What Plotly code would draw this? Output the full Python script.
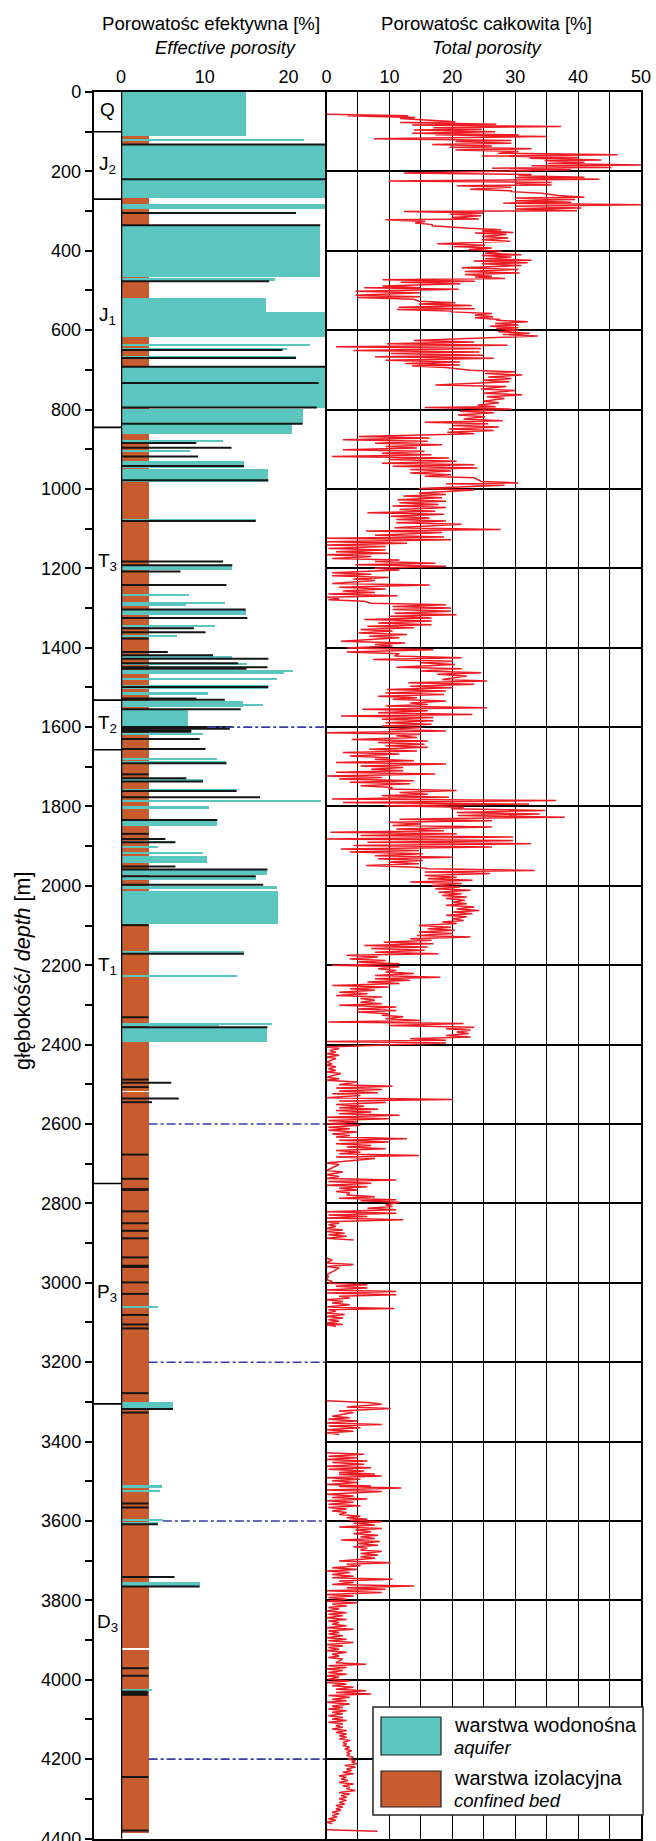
import plotly.graph_objects as go

W, H = 656, 1841

# ---------------- data ----------------
DEPTH_TICKS = list(range(0, 4401, 200))
DEPTH_MINOR = list(range(100, 4400, 200))
EFF_TICKS = [0, 10, 20]
TOT_TICKS = [0, 5, 10, 15, 20, 25, 30, 35, 40, 45, 50]
TOT_TICKTEXT = ["0", "", "10", "", "20", "", "30", "", "40", "", "50"]

STRAT_BOUNDARIES = [100, 270, 845, 1532, 1657, 2750, 3305]
STRAT_LABELS = ["Q", "J<sub>2</sub>", "J<sub>1</sub>", "T<sub>3</sub>", "T<sub>2</sub>",
                "T<sub>1</sub>", "P<sub>3</sub>", "D<sub>3</sub>"]
STRAT_LABEL_DEPTH = [45, 185, 565, 1185, 1592, 2202, 3025, 3857]

# confined bed (orange) segments
CB_TOP = [110, 2520, 3925]
CB_BOTTOM = [2516, 3921, 4385]
CB_VALUE = [3.3, 3.3, 3.3]

# aquifer (cyan) layers
AQ_TOP = [0, 119, 132, 282, 338, 471, 519, 555, 635, 645, 666, 690, 798, 836, 878, 903,
          930, 950, 1078, 1195, 1266, 1284, 1286, 1305, 1345, 1370, 1423, 1440, 1458, 1462,
          1477, 1494, 1514, 1533, 1544, 1556, 1617, 1678, 1687, 1732, 1756, 1784, 1799,
          1833, 1888, 1901, 1915, 1925, 1958, 1975, 2002, 2012, 2165, 2226, 2345, 2347,
          2356, 3060, 3301, 3509, 3524, 3597, 3603, 3755, 4024]
AQ_BOTTOM = [111, 123, 266, 294, 465, 475, 555, 617, 639, 649, 672, 797, 836, 862, 882, 907,
             947, 982, 1082, 1205, 1270, 1294, 1290, 1318, 1349, 1374, 1427, 1444, 1462, 1466,
             1481, 1503, 1518, 1549, 1548, 1596, 1621, 1682, 1692, 1736, 1761, 1788, 1807,
             1850, 1892, 1905, 1919, 1943, 1972, 1985, 2007, 2097, 2171, 2230, 2352, 2351,
             2393, 3064, 3318, 3516, 3528, 3601, 3607, 3765, 4028]
AQ_VALUE = [14.9, 21.9, 24.55, 24.55, 23.8, 18.4, 17.3, 24.55, 22.6, 19.8, 20.9, 24.55, 21.7,
            20.4, 12.2, 8.3, 14.7, 17.6, 16.1, 13.3, 8.1, 7.8, 12.4, 14.9, 11.2, 6.7, 13.3,
            15.0, 20.6, 19.5, 18.6, 17.6, 10.4, 14.6, 17.0, 8.0, 9.8, 11.5, 12.6, 9.8, 13.8,
            23.95, 10.5, 11.5, 6.5, 4.4, 9.8, 10.3, 17.5, 16.1, 18.6, 18.8, 14.7, 13.8, 11.7,
            18.0, 17.5, 4.4, 6.2, 4.9, 4.7, 5.0, 4.4, 9.4, 3.7]

# black marker lines in the effective porosity column
BL_DEPTH = [132, 220, 305, 336, 477, 650, 670, 692, 733, 795, 836, 884, 896, 918, 942, 978,
            1081, 1183, 1192, 1208, 1242, 1304, 1325, 1351, 1361, 1377, 1411, 1419, 1428,
            1439, 1449, 1453, 1499, 1528, 1531, 1555, 1600, 1604, 1608, 1612, 1630, 1655,
            1691, 1719, 1729, 1737, 1761, 1777, 1834, 1869, 1882, 1890, 1951, 1959, 1976,
            1997, 2099, 2171, 2331, 2356, 2488, 2496, 2507, 2536, 2545, 2677, 2738, 2764,
            2766, 2820, 2850, 2869, 2888, 2936, 2957, 2960, 2999, 3028, 3081, 3105, 3115,
            3278, 3318, 3327, 3556, 3566, 3608, 3741, 3765, 3971, 3990, 4030, 4034, 4038,
            4245, 4380]
BL_VALUE = [24.55, 24.55, 20.9, 23.8, 17.7, 19.3, 20.9, 24.55, 23.6, 23.4, 21.7, 9.0, 13.2,
            9.2, 14.7, 17.6, 16.1, 12.2, 13.3, 7.1, 12.6, 14.9, 15.1, 8.7, 10.1, 3.3, 5.6,
            11.0, 17.6, 14.0, 17.5, 15.0, 17.6, 9.0, 12.4, 14.3, 13.3, 13.0, 8.4, 8.4, 9.4,
            10.1, 12.6, 3.3, 7.8, 9.8, 13.8, 16.6, 11.5, 3.3, 5.3, 6.5, 6.5, 17.5, 16.1, 17.0,
            3.3, 14.7, 3.3, 17.5, 3.3, 6.0, 3.3, 6.9, 3.7, 3.3, 3.3, 3.3, 3.3, 3.3, 3.3, 3.3,
            3.3, 3.3, 3.3, 3.3, 3.3, 3.3, 3.3, 3.3, 3.3, 3.3, 6.2, 3.3, 3.3, 3.3, 4.4, 6.4,
            9.4, 3.3, 3.3, 3.2, 3.2, 3.2, 3.3, 3.3]

# dash-dot correlation lines
DOT_DEPTH = [1600, 2600, 3200, 3600, 4200]
DOT_START = [10.3, 3.3, 3.3, 5.0, 3.3]

# total porosity log: per depth row, the low and high excursion of the trace
# (None rows mark gaps in the log)
TP_DEPTH = [
    58, 62, 69, 73, 79, 85, 92, 98, 106, 110, 120, 127, 134, 141, 148, 156, 163, 169, 175, 182,
    188, 194, 206, 213, 218, 226, 232, 238, 247, 253, 263, 269, 276, 282, 290, 297, 303, 310,
    318, 324, 332, 339, 345, 352, 357, 366, 374, 384, 391, 399, 408, 414, 422, 428, 435, 445,
    454, 462, 468, 475, 481, 491, 495, 504, 514, 520, 529, 536, 544, 550, 556, 564, 571, 577,
    585, 592, 598, 606, 613, 628, 636, 644, 653, 661, 669, 678, 686, 692, 703, 711, 720, 728,
    740, 750, 761, 770, 781, 791, 797, 806, 816, 826, 834, 842, 851, 859, 870, 878, 887, 895,
    903, 912, 920, 928, 937, 945, 953, 962, 970, 983, 989, 1001, 1012, 1020, 1029, 1037, 1045,
    1054, 1062, 1071, 1079, 1087, 1100, 1108, 1119, 1126, 1135, 1143, 1152, 1160, 1168, 1177,
    1185, 1193, 1202, 1213, 1221, 1229, 1240, 1250, 1259, 1267, 1275, 1281, 1290, 1298, 1306,
    1315, 1323, 1331, 1340, 1348, 1356, 1365, 1373, 1386, 1394, 1403, 1413, 1423, 1432, 1440,
    1451, 1461, 1469, 1482, 1490, 1499, 1507, 1516, 1524, 1532, 1541, 1549, 1557, 1566, 1574,
    1582, 1591, 1599, 1608, 1616, 1624, 1633, 1641, 1649, 1658, 1666, 1675, 1683, 1691, 1700,
    1708, 1716, 1725, 1733, 1741, 1750, 1758, 1767, 1775, 1783, 1792, 1800, 1808, 1817, 1825,
    1834, 1842, 1850, 1859, 1867, 1875, 1884, 1892, 1900, 1909, 1917, 1926, 1934, 1942, 1951,
    1959, 1967, 1976, 1984, 1992, 2001, 2009, 2018, 2026, 2034, 2043, 2051, 2060, 2068, 2076,
    2085, 2093, 2102, 2110, 2118, 2127, 2135, 2144, 2152, 2160, 2169, 2177, 2186, 2194, 2202,
    2211, 2219, 2228, 2236, 2244, 2253, 2261, 2270, 2278, 2286, 2295, 2303, 2312, 2320, 2328,
    2337, 2345, 2354, 2362, 2370, 2379, 2387, 2394, 2408, 2417, 2425, 2433, 2446, 2454, 2463,
    2471, 2484, 2492, 2503, 2511, 2519, 2526, 2536, 2544, 2553, 2561, 2568, 2576, 2585, 2593,
    2601, 2610, 2618, 2627, 2635, 2643, 2652, 2660, 2669, 2677, 2685, 2700, 2719, 2730, 2739,
    2747, 2756, 2764, 2772, 2781, 2789, 2795, 2806, 2814, 2823, 2831, 2839, 2848, 2856, 2865,
    2873, 2881, 2890, None,
    2940, 2952, 2961, 2982, 2994, 3003, 3011, 3020, 3028, 3036, 3045, 3053, 3063, 3070, 3078,
    3087, 3095, 3103, 3108, None,
    3299, 3304, 3315, 3325, 3338, 3346, 3355, 3363, 3372, 3380, None,
    3430, 3439, 3447, 3455, 3464, 3472, 3480, 3485, 3493, 3501, 3510, 3515, 3524, 3535, 3543,
    3551, 3560, 3568, 3577, 3586, 3594, 3600, 3608, 3617, 3625, 3634, 3642, 3650, 3659, 3667,
    3675, 3684, 3692, 3703, 3711, 3720, 3728, 3737, 3745, 3753, 3762, 3770, 3778, 3787, 3795,
    3804, 3812, 3820, 3829, 3837, 3846, 3854, 3862, 3871, 3879, 3887, 3896, 3904, 3913, 3921,
    3929, 3938, 3946, 3959, 3967, 3975, 3984, 3992, 4001, 4009, 4017, 4026, 4034, 4042, 4051,
    4059, 4068, 4076, 4084, 4093, 4101, 4109, 4118, 4126, 4135, 4143, 4151, 4160, 4168, 4177,
    4185, 4193, 4202, 4210, 4218, 4227, 4235, 4244, 4252, 4261, 4269, 4277, 4286, 4294, 4302,
    4311, 4319, 4327, 4336, 4344, 4352, 4361, None,
    4380]
TP_LOW = [
    0, 3.3, 11.7, 14.7, 11.7, 13.6, 17, 13.9, 13.6, 17.3, 7.5, 20.5, 16.8, 19.6, 20.5, 27.3,
    24.7, 32.3, 34.7, 35.2, 32.6, 26.3, 12.3, 30.5, 30, 9.9, 30, 20.7, 22.8, 29.4, 36.8, 30,
    30, 28.1, 30, 30, 12.3, 19.7, 19.9, 9.4, 14.1, 16.8, 22.6, 24.7, 23.6, 24.7, 24.7, 17.6,
    20.2, 22.6, 25.2, 24.7, 25.2, 23.4, 24.7, 21.5, 22, 22, 23.6, 8.9, 11.8, 8.9, 6, 4.6, 4.6,
    4.9, 14.7, 14.7, 11.5, 11.2, 19.9, 23.6, 23.6, 27, 26.8, 26, 27, 27.3, 28, 13.9, 9.6, 1.5,
    4.3, 10.2, 7.7, 9.4, 12.5, 13.6, 22.9, 25.2, 25.7, 24.9, 17.3, 24.6, 24.9, 25.5, 24.9,
    24, 15.6, 21.2, 20.9, 21.8, 15.6, 20.1, 19.5, 19.2, 5.1, 2.6, 7.7, 9.4, 2.6, 8.8, 0.9,
    9.9, 8.8, 10.5, 13.3, 13.3, 15.6, 24.6, 19, 14.7, 14.7, 12.2, 11.3, 11.6, 10.5, 11.6,
    6.5, 10.2, 11.1, 11.1, 10.8, 6.3, 7.7, 0, 0, 0, 0.3, 1.5, 0, 0.9, 7.7, 4.6, 7.7, 0.9,
    0.9, 4.3, 0.9, 2, 2.6, 0.3, 0, 0.3, 7.1, 10.5, 10.5, 10.8, 9.9, 6, 8.2, 6.5, 5.4, 5.1,
    6.8, 2.3, 7.7, 3.2, 3.2, 10.8, 7.4, 15, 11.1, 15, 17.6, 18.4, 13, 13.3, 9.6, 9.4, 8.2,
    10.5, 13.3, 9.4, 5.7, 8.2, 2.3, 8.8, 9.4, 8.8, 9.9, 0, 11.1, 4, 8.2, 9.4, 6.8, 2.6, 3.7,
    7.7, 1.5, 5.4, 7.1, 1.5, 0, 2, 3.7, 5.4, 9.9, 11.6, 8.8, 0.9, 2.6, 9.4, 19.8, 20.7, 20.9,
    11.6, 9.9, 10.5, 11.1, 0.6, 5.4, 0, 6.5, 4.3, 2.3, 3.7, 7.7, 8.2, 9.9, 6.3, 16.1, 15.6,
    15.6, 16.1, 13.3, 16.7, 17.3, 17.8, 18.4, 19, 20.1, 19, 20.7, 20.1, 19, 20.1, 18.4, 14.7,
    16.1, 14.7, 14.4, 13.3, 9.1, 6, 7.1, 7.7, 3.2, 3.7, 4.9, 0.9, 8.2, 9.4, 7.7, 7.7, 6.5,
    0.9, 3.7, 2, 1.5, 5.4, 5.4, 2, 4.9, 4.9, 8.8, 9.4, 0.3, 9.9, 19, 20.7, 19, 13.3, 0, 0,
    0.5, 0, 0, 0, 0, 0.3, 0, 0, 0, 2, 1.5, 2, 0.9, 0, 2, 1.5, 2, 1.5, 2, 0, 0.3, 0, 0.3, 0.3,
    0.9, 1.5, 2, 1.5, 3.2, 1.5, 2, 1.5, 0, 0, 0, 0, 0.3, 0, 2, 1.5, 3.2, 2, 5.4, 9.4, 6.5, 0,
    0.3, 0, 0, 0.3, 0, 0, 0.3, 0, None,
    0, 0, 0, 0, 0, 0.3, 1.5, 0, 0, 2, 0, 0.9, 0, 0.3, 0, 0, 0.3, 0, 0, None,
    0, 7.1, 3.2, 2, 0.9, 0.3, 0, 0.3, 0, 0, None,
    0, 0.3, 0, 0.9, 0, 0.3, 2, 2, 0, 0.9, 0, 2, 0, 0, 0.9, 0, 0.3, 0.3, 0.9, 2, 3.2, 3.7,
    4.3, 2, 4.6, 4.3, 5.4, 2.3, 4.9, 4.3, 5.4, 5.4, 5.4, 2, 3.2, 0.9, 0, 0.9, 0.9, 2, 0.9,
    3.2, 0, 0, 0.3, 0, 0.9, 0.3, 0, 0.3, 0, 0.3, 0.9, 0, 0.3, 0.3, 0, 0.3, 0, 0.3, 0, 0.9,
    0.3, 1.5, 0.3, 0, 0.3, 0, 0.3, 0, 0.9, 1.5, 1.5, 0.3, 0.9, 0, 0.9, 0.3, 0.9, 0.3, 0.9,
    0.3, 1.5, 0.9, 1.5, 2, 2, 2.6, 2.6, 2.9, 3.2, 3.2, 3.4, 4, 2.9, 3.2, 2.6, 2, 2.3, 2, 2.6,
    3.2, 2, 2.3, 2, 2, 1.5, 1.5, 0.9, 0.9, 0.3, 0, None,
    0]
TP_HIGH = [
    13, 14.1, 16.2, 20.5, 27, 37.3, 24.7, 26.8, 30.5, 35, 29.4, 29.4, 26.3, 32.6, 30.5, 46.3,
    40, 43.7, 41, 50, 45.3, 38.9, 32.6, 41, 43.4, 35.8, 35.8, 29.4, 29.4, 34.2, 41, 39.5,
    38.9, 50, 40.5, 39.8, 24.9, 24.6, 24.2, 15.7, 16.8, 22.3, 27.8, 29.7, 28.6, 28.9, 29.2,
    25.2, 26.3, 27.8, 31, 29.4, 32.6, 32, 31, 30.5, 30.7, 26.3, 28.4, 23.6, 21.3, 14.9, 21,
    14.9, 15, 13.9, 20.5, 23.1, 23.6, 19.9, 26.3, 26.5, 27.6, 32, 30.5, 30.5, 30.5, 32.3,
    33.6, 23.5, 28.8, 24.6, 24.3, 24.9, 26.6, 21.2, 21.2, 19, 30, 31.1, 29.4, 29.1, 28.6, 30,
    31.1, 28.3, 27.4, 26.9, 29.4, 26.6, 25.2, 28, 25.7, 27.4, 26.6, 23.5, 16.4, 16.1, 18.4,
    14.4, 15.6, 16.7, 19.5, 20.7, 23.5, 24, 19.8, 19.8, 23.5, 30.5, 28.3, 23.5, 19, 18.4, 19,
    17.8, 19, 17.3, 18.7, 16.4, 19, 21.5, 27.7, 18.4, 18.7, 19.8, 12.8, 9.4, 9.4, 9.9, 7.1,
    11.6, 17.3, 19, 11.6, 7.1, 9.9, 7.7, 16.4, 9.4, 7.7, 11.3, 2, 6, 19, 19.8, 19.8, 20.7,
    16.7, 16.7, 16.7, 13.9, 10.5, 12.8, 11.6, 12.5, 10.5, 17, 11.6, 21.5, 20.1, 20.4, 21.5,
    24.6, 22.3, 25.5, 23.5, 20.1, 19, 18.7, 14.4, 19, 16.1, 25.5, 16.1, 23.2, 17, 17, 16.7,
    15, 19, 15, 14.4, 16.1, 15.6, 16.1, 14.4, 11.6, 9.9, 13.9, 19, 12.2, 12.2, 17.3, 8.8,
    13.9, 13.3, 10.5, 20.7, 16.1, 19.5, 36.5, 32.2, 21.8, 34.8, 33.9, 37.9, 26.3, 15, 26.3,
    18.7, 20.7, 29.7, 29.7, 32.5, 26.3, 14.7, 15.3, 20.1, 15.3, 14.7, 14.4, 33.1, 26, 20.7,
    23.2, 21.5, 21.2, 22.9, 21.5, 22.3, 22, 22.3, 23.5, 24.3, 23.2, 22.3, 21.8, 20.7, 19.8,
    20.4, 20.1, 22.9, 16.7, 17, 16.1, 15.6, 17.8, 8.2, 9.4, 11.6, 11.6, 11.1, 13.9, 18.1,
    13.3, 11.6, 9.9, 7.7, 6.5, 8.8, 7.7, 8.8, 11.1, 11.1, 9.9, 12.2, 15, 21.8, 23.5, 22.9,
    22.6, 22.9, 19, 19, 2, 1.5, 2, 1.5, 0.9, 1.5, 1.5, 2.3, 2, 4.9, 10.5, 8.8, 8.2, 5.4, 20.1,
    9.4, 6, 8.2, 7.1, 11.6, 9.9, 4.9, 5.4, 3.7, 4.9, 3.7, 12.8, 9.9, 7.1, 9.4, 5.4, 14.7, 7.7,
    2, 2.6, 2, 11.1, 7.1, 6.5, 4.9, 3.7, 7.7, 11.1, 11.6, 10.5, 11.1, 11.1, 6.5, 12.2, 2, 1.5,
    2.6, 2.9, 3.2, 4.3, None,
    0.9, 4.3, 2, 0.3, 0.9, 6.5, 6.5, 11.1, 11.1, 3.7, 2.6, 3.7, 10.8, 1.5, 2.9, 2.6, 2, 2.6,
    1.5, None,
    7.1, 8.8, 10.2, 4.3, 3.7, 4.9, 8.8, 5.4, 4.3, 2, None,
    6, 4.9, 6.5, 6, 7.1, 6, 7.7, 8.8, 5.4, 4.9, 7.1, 11.9, 8.8, 4.3, 6.5, 4.3, 5.4, 3.2, 3.2,
    5.4, 6.5, 8.8, 7.7, 8.8, 7.1, 8.2, 7.7, 8.5, 8.2, 6.5, 8.8, 8.2, 7.7, 10.2, 5.4, 4.9,
    3.7, 4.3, 10.5, 4.3, 13.9, 9.4, 8.8, 4.3, 3.2, 4.9, 3.2, 2, 3.2, 2.6, 3.2, 2, 3.2, 4.3,
    2, 2.6, 3.2, 4.3, 2.6, 2, 3.2, 2, 2.6, 6.3, 3.2, 2.6, 3.2, 2, 3.7, 3.2, 4.3, 6.3, 7.1,
    3.7, 3.2, 3.7, 2.6, 3.2, 2.6, 2.6, 3.2, 2.6, 2.6, 3.2, 3.2, 3.2, 3.7, 3.2, 3.7, 4, 3.7,
    4.3, 4.6, 4.9, 4.6, 4, 4.3, 3.2, 3.4, 4.3, 3.7, 4.6, 3.7, 3.2, 3.2, 2.9, 2.6, 2.3, 2, 1.7,
    1.5, 0.9, None,
    8.1]

# ---------------- geometry (pixels) ----------------
Y_TOP_PX, Y_BOT_PX = 92, 1838.5
STRAT_L, LEFT_L, MID, RIGHT_R = 93.5, 121, 326.5, 641
EFF_MAX = 24.55


def px(x):
    return x / W


def py(y):
    return 1 - y / H


CYAN = "#5BC5C0"
ORANGE = "#C85C2E"
RED = "#ED1C24"
NAVY = "#3A3AA0"
FONT = "Liberation Sans, Arial, sans-serif"

fig = go.Figure()

# confined bed
fig.add_trace(go.Bar(
    x=CB_VALUE, y=[(a + b) / 2 for a, b in zip(CB_TOP, CB_BOTTOM)],
    width=[b - a for a, b in zip(CB_TOP, CB_BOTTOM)], base=0, orientation="h",
    marker=dict(color=ORANGE, line=dict(width=0)), xaxis="x", yaxis="y"))

# aquifers
fig.add_trace(go.Bar(
    x=AQ_VALUE, y=[(a + b) / 2 for a, b in zip(AQ_TOP, AQ_BOTTOM)],
    width=[b - a for a, b in zip(AQ_TOP, AQ_BOTTOM)], base=0, orientation="h",
    marker=dict(color=CYAN, line=dict(width=0)), xaxis="x", yaxis="y"))

# black lines
bx, by = [], []
for d, v in zip(BL_DEPTH, BL_VALUE):
    bx += [0, v, None]
    by += [d, d, None]
fig.add_trace(go.Scatter(x=bx, y=by, mode="lines", line=dict(color="#151515", width=2),
                         xaxis="x", yaxis="y", hoverinfo="skip"))

# dash-dot lines
dx, dy = [], []
for d, s in zip(DOT_DEPTH, DOT_START):
    dx += [s, EFF_MAX, None]
    dy += [d, d, None]
fig.add_trace(go.Scatter(x=dx, y=dy, mode="lines",
                         line=dict(color=NAVY, width=1.6, dash="dashdot"),
                         xaxis="x", yaxis="y", hoverinfo="skip"))

# total porosity: each row is a low->high excursion, giving a dense sawtooth trace
HALF = 2.0
tx, ty = [], []
for d, lo, hi in zip(TP_DEPTH, TP_LOW, TP_HIGH):
    if d is None:
        tx.append(None)
        ty.append(None)
        continue
    tx += [lo, hi]
    ty += [d - HALF, d + HALF]
fig.add_trace(go.Scatter(x=tx, y=ty, mode="lines", line=dict(color=RED, width=1.5),
                         xaxis="x2", yaxis="y2", hoverinfo="skip", connectgaps=False))

ydom = [py(Y_BOT_PX), py(Y_TOP_PX)]
tickfont = dict(family=FONT, size=18, color="black")

shapes = []
for b in STRAT_BOUNDARIES:
    shapes.append(dict(type="line", xref="x3", yref="y", x0=0, x1=1, y0=b, y1=b,
                       line=dict(color="black", width=1.6)))
shapes.append(dict(type="line", xref="x", yref="y domain", x0=0, x1=0, y0=0, y1=1,
                   line=dict(color="black", width=2.5)))

# legend box
LG_L, LG_R, LG_T, LG_B = 373, 643, 1707, 1815
shapes.append(dict(type="rect", xref="paper", yref="paper", x0=px(LG_L), x1=px(LG_R),
                   y0=py(LG_B), y1=py(LG_T), fillcolor="white",
                   line=dict(color="#222", width=1.5), layer="above"))
shapes.append(dict(type="rect", xref="paper", yref="paper", x0=px(381), x1=px(441),
                   y0=py(1755), y1=py(1717), fillcolor=CYAN,
                   line=dict(color="#222", width=1.2), layer="above"))
shapes.append(dict(type="rect", xref="paper", yref="paper", x0=px(381), x1=px(441),
                   y0=py(1807), y1=py(1771), fillcolor=ORANGE,
                   line=dict(color="#222", width=1.2), layer="above"))

annotations = []
for lab, d in zip(STRAT_LABELS, STRAT_LABEL_DEPTH):
    annotations.append(dict(xref="x3", yref="y", x=0.5, y=d, text=lab, showarrow=False,
                            font=dict(family=FONT, size=19, color="black"),
                            xanchor="center", yanchor="middle"))


def ann(text, x, y, size, xanchor="center", angle=0):
    annotations.append(dict(xref="paper", yref="paper", x=px(x), y=py(y), text=text,
                            showarrow=False, xanchor=xanchor, yanchor="middle",
                            textangle=angle,
                            font=dict(family=FONT, size=size, color="black")))


ann("Porowatośc efektywna [%]", 211, 24, 18.6)
ann("<i>Effective porosity</i>", 226, 47, 18.4)
ann("Porowatośc całkowita [%]", 486, 24, 18.6)
ann("<i>Total porosity</i>", 487, 47, 18.4)
ann("głębokość/ <i>depth</i> [m]", 23, 971, 21.5, angle=-90)
ann("warstwa wodonośna", 452, 1725, 20, xanchor="left")
ann("<i>aquifer</i>", 452, 1747, 18.5, xanchor="left")
ann("warstwa izolacyjna", 452, 1778, 20, xanchor="left")
ann("<i>confined bed</i>", 452, 1800, 18.5, xanchor="left")

fig.update_layout(
    width=W, height=H, margin=dict(l=0, r=0, t=0, b=0),
    paper_bgcolor="white", plot_bgcolor="rgba(0,0,0,0)",
    showlegend=False, barmode="overlay", bargap=0,
    font=dict(family=FONT, color="black"),
    xaxis3=dict(domain=[px(STRAT_L), px(LEFT_L)], range=[0, 1], anchor="y", side="top",
                showticklabels=False, ticks="", showgrid=False, zeroline=False,
                showline=True, mirror=True, linecolor="black", linewidth=1.5),
    xaxis=dict(domain=[px(LEFT_L), px(MID)], range=[0, EFF_MAX], anchor="y", side="top",
               tickvals=EFF_TICKS, ticks="", showgrid=False, zeroline=False,
               showline=True, mirror=True, linecolor="black", linewidth=1.5,
               tickfont=tickfont, automargin=False),
    xaxis2=dict(domain=[px(MID), px(RIGHT_R)], range=[0, 50], anchor="y2", side="top",
                tickvals=TOT_TICKS, ticktext=TOT_TICKTEXT, ticks="",
                showgrid=True, gridcolor="black", gridwidth=1.2, zeroline=False,
                showline=True, mirror=True, linecolor="black", linewidth=1.5,
                tickfont=tickfont, automargin=False),
    yaxis=dict(domain=ydom, range=[4400, 0], anchor="x3", side="left",
               tickvals=DEPTH_TICKS, ticks="outside", ticklen=7, tickwidth=1.5,
               tickcolor="black", ticklabeloverflow="allow",
               minor=dict(tickvals=DEPTH_MINOR, ticks="outside", ticklen=7, tickwidth=1.5,
                          tickcolor="black"),
               showgrid=False, zeroline=False, showline=True, linecolor="black",
               linewidth=1.5, tickfont=tickfont, automargin=False),
    yaxis2=dict(domain=ydom, range=[4400, 0], anchor="x2", matches="y",
                tickvals=DEPTH_TICKS, showticklabels=False, ticks="",
                showgrid=True, gridcolor="black", gridwidth=2.2, zeroline=False,
                showline=True, mirror=True, linecolor="black", linewidth=1.5),
    shapes=shapes, annotations=annotations,
)

fig.write_html("out.html")
